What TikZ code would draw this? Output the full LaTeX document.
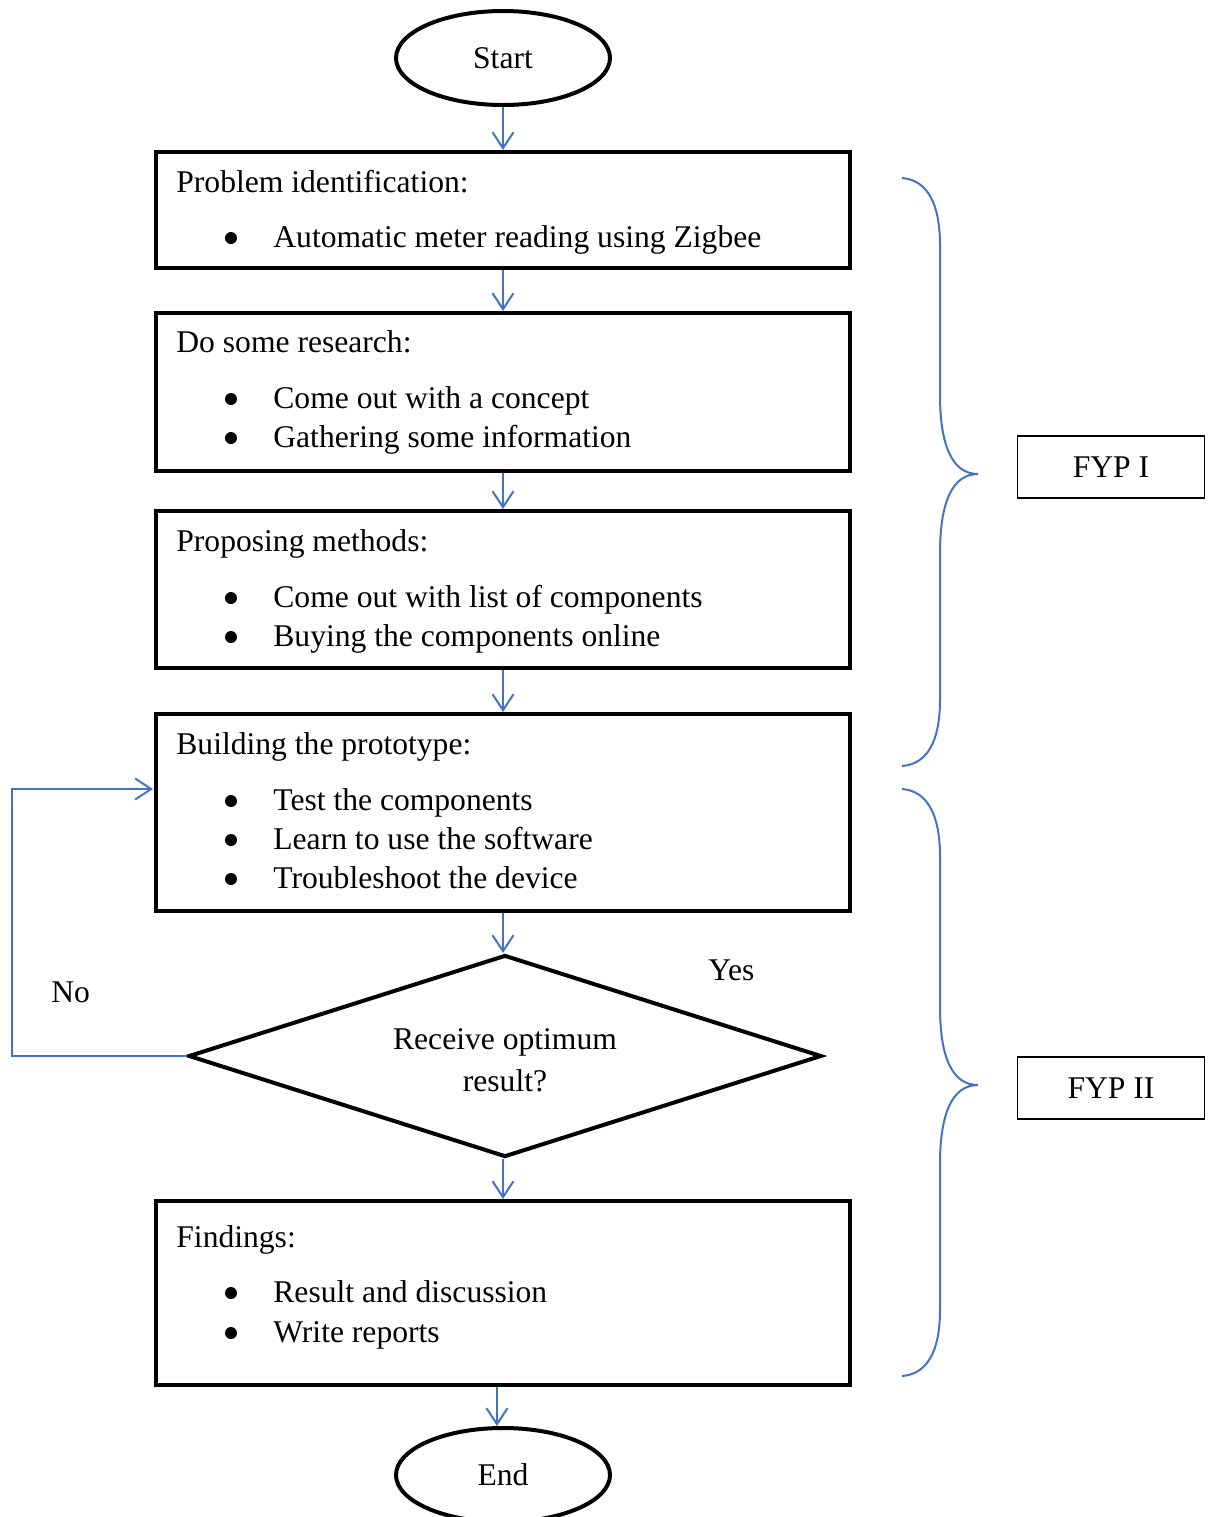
\documentclass[tikz,border=0pt]{standalone}
\usepackage{fontspec}
\setmainfont{Liberation Serif}
\usetikzlibrary{shapes.geometric,arrows.meta}
\definecolor{flowblue}{RGB}{68,114,196}
\tikzset{
  x=0.5pt, y=-0.5pt,
  every node/.style={font=\fontsize{15.8}{19}\selectfont},
  box/.style={draw=black, line width=2pt, anchor=north west, inner sep=0pt, minimum width=347pt},
  term/.style={draw=black, line width=2pt, ellipse, inner sep=0pt, minimum width=107pt, minimum height=47pt},
  txt/.style={anchor=base west, inner sep=0pt},
  bul/.style={circle, fill=black, inner sep=0pt, minimum size=6pt},
  flow/.style={draw=flowblue, line width=1pt, -{Straight Barb[length=8pt,width=10.5pt]}},
  brace/.style={draw=flowblue, line width=1pt},
  fyp/.style={draw=black, line width=0.8pt, inner sep=0pt, minimum width=93.5pt, minimum height=31pt}
}
\begin{document}
\begin{tikzpicture}
\useasboundingbox (0,0) rectangle (1209,1517);
% terminals
\node[term] (start) at (503,58) {Start};
\node[term] (end) at (503,1475) {End};
% boxes
\node[box, minimum height=58pt] (b1) at (154,150) {};
\node[box, minimum height=79pt] (b2) at (154,311) {};
\node[box, minimum height=78.5pt] (b3) at (154,509) {};
\node[box, minimum height=98.5pt] (b4) at (154,712) {};
\node[box, minimum height=92pt] (b5) at (154,1199) {};
% diamond
\node[diamond, draw=black, line width=2pt, inner sep=0pt, aspect=3.13, minimum width=316.5pt, minimum height=101pt] (dec) at (505,1056) {};
\node[align=center, inner sep=0pt] (dect) at (505,1060) {Receive optimum\\[2pt]result?};
% texts box1
\node[txt] (t1) at (176,192) {Problem identification:};
\node[bul] (t1b1) at (231,238) {};
\node[txt] (t1a) at (273,247) {Automatic meter reading using Zigbee};
% box2
\node[txt] (t2) at (176,352) {Do some research:};
\node[bul] (t2b1) at (231,399) {};
\node[txt] (t2a) at (273,408) {Come out with a concept};
\node[bul] (t2b2) at (231,438) {};
\node[txt] (t2c) at (273,447) {Gathering some information};
% box3
\node[txt] (t3) at (176,551) {Proposing methods:};
\node[bul] (t3b1) at (231,598) {};
\node[txt] (t3a) at (273,607) {Come out with list of components};
\node[bul] (t3b2) at (231,637) {};
\node[txt] (t3c) at (273,646) {Buying the components online};
% box4
\node[txt] (t4) at (176,754) {Building the prototype:};
\node[bul] (t4b1) at (231,801) {};
\node[txt] (t4a) at (273,810) {Test the components};
\node[bul] (t4b2) at (231,840) {};
\node[txt] (t4c) at (273,849) {Learn to use the software};
\node[bul] (t4b3) at (231,879) {};
\node[txt] (t4d) at (273,888) {Troubleshoot the device};
% box5
\node[txt] (t5) at (176,1247) {Findings:};
\node[bul] (t5b1) at (231,1293) {};
\node[txt] (t5a) at (273,1302) {Result and discussion};
\node[bul] (t5b2) at (231,1333) {};
\node[txt] (t5c) at (273,1342) {Write reports};
% labels
\node[txt] (yes) at (708,980) {Yes};
\node[txt] (no) at (51,1002) {No};
% FYP boxes
\node[fyp] (fyp1) at (1111,467) {FYP I};
\node[fyp] (fyp2) at (1111,1088) {FYP II};
% connectors
\draw[flow] (start.south) -- (b1.north);
\draw[flow] (b1.south) -- (b2.north);
\draw[flow] (b2.south) -- (b3.north);
\draw[flow] (b3.south) -- (b4.north);
\draw[flow] (b4.south) -- (b4.south |- dec.north);
\draw[flow] (b5.north |- dec.south) -- (b5.north);
\draw[flow] ([xshift=-3pt]b5.south) -- ([xshift=-3pt]end.north);
\coordinate (l1) at (12,1056);
\coordinate (l2) at (12,789);
\coordinate (l3) at (153,789);
\draw[flow] (dec.west) -- (l1) -- (l2) -- (l3);
% braces
\draw[brace] (902,178) .. controls (928,180) and (940,205) .. (940,245) -- (940,395)
  .. controls (940,445) and (952,474) .. (978,474)
  .. controls (952,474) and (940,503) .. (940,553) -- (940,700)
  .. controls (940,740) and (928,764) .. (902,766);
\draw[brace] (902,789) .. controls (928,791) and (940,816) .. (940,856) -- (940,1007)
  .. controls (940,1057) and (952,1085) .. (978,1085)
  .. controls (952,1085) and (940,1114) .. (940,1164) -- (940,1310)
  .. controls (940,1350) and (928,1374) .. (902,1376);
\end{tikzpicture}
\end{document}
